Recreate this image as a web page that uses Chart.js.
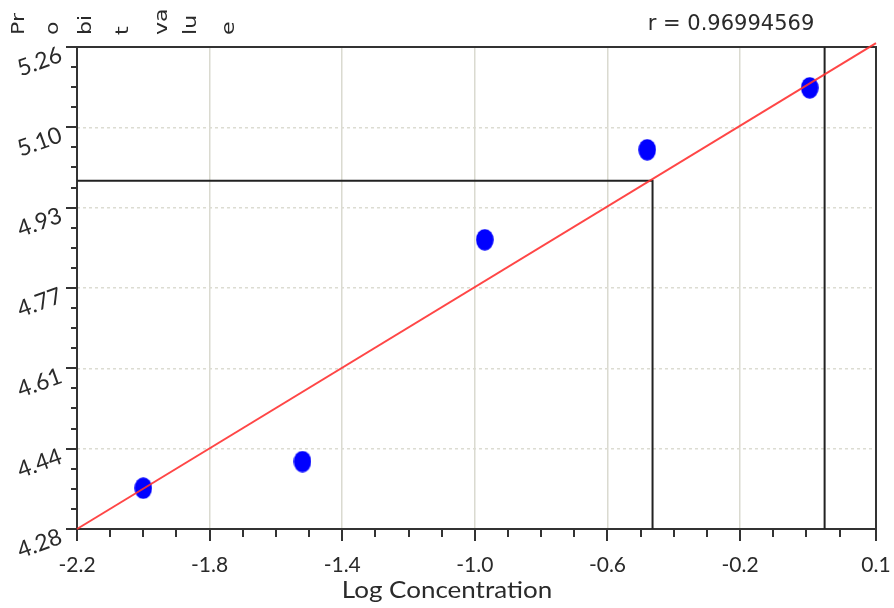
<!DOCTYPE html>
<html>
<head>
<meta charset="utf-8">
<script src="https://cdn.jsdelivr.net/npm/chart.js@4/dist/chart.umd.min.js"></script>
<style>
  body { margin: 0; background: #fff; }
  #wrap { width: 894px; height: 608px; }
</style>
</head>
<body>
<div id="wrap"><canvas id="probitChart" width="894" height="608"></canvas></div>
<script>
// observed points
const logConc = [-2.0, -1.52, -0.97, -0.48, 0.01];
const probit = [4.363, 4.417, 4.868, 5.051, 5.177];

// fitted line, LC50 guide and the extra marker line
const fitX = [-2.2, 0.21];
const fitY = [4.28, 5.268];
const lc50X = [-2.2, -0.464, -0.464];
const lc50Y = [4.988, 4.988, 4.28];
const markX = [0.055, 0.055];
const markY = [4.28, 5.26];

// axes
const xTickValues = [-2.2, -1.8, -1.4, -1.0, -0.6, -0.2, 0.21];
const xTickLabels = ['-2.2', '-1.8', '-1.4', '-1.0', '-0.6', '-0.2', '0.1'];
const xMinorTicks = [-2.1, -2.0, -1.9, -1.7, -1.6, -1.5, -1.3, -1.2, -1.1, -0.9, -0.8, -0.7, -0.5, -0.4, -0.3, -0.1, 0.0, 0.1];
const yTickValues = [4.28, 4.4433, 4.6067, 4.77, 4.9333, 5.0967, 5.26];
const yTickLabels = ['4.28', '4.44', '4.61', '4.77', '4.93', '5.10', '5.26'];

const rText = 'r = 0.96994569';
const xTitle = 'Log Concentration';
const yTitleParts = ['Pr', 'o', 'bi', 't', 'va', 'lu', 'e'];

const toPts = (xs, ys) => xs.map((x, i) => ({ x: x, y: ys[i] }));

// blue dots are slightly taller than wide
const dot = document.createElement('canvas');
dot.width = 18; dot.height = 22;
const dctx = dot.getContext('2d');
dctx.fillStyle = '#0000ff';
dctx.beginPath();
dctx.ellipse(9, 11, 8.8, 10.8, 0, 0, Math.PI * 2);
dctx.fill();

const TEXT = '#2a2a2a';
const FRAME = '#333333';

const decorPlugin = {
  id: 'decor',
  beforeDatasetsDraw(chart) {
    const { ctx, chartArea: a, scales } = chart;
    ctx.save();
    ctx.strokeStyle = FRAME;
    ctx.lineWidth = 2;
    ctx.strokeRect(a.left, a.top, a.right - a.left, a.bottom - a.top);

    // tick marks
    ctx.beginPath();
    xTickValues.forEach(v => {
      const px = Math.round(scales.x.getPixelForValue(v));
      ctx.moveTo(px, a.bottom); ctx.lineTo(px, a.bottom + 12);
    });
    xMinorTicks.forEach(v => {
      const px = Math.round(scales.x.getPixelForValue(v));
      ctx.moveTo(px, a.bottom); ctx.lineTo(px, a.bottom + 8);
    });
    yTickValues.forEach((v, i) => {
      const py = Math.round(scales.y.getPixelForValue(v));
      ctx.moveTo(a.left, py); ctx.lineTo(a.left - 11, py);
      if (i < yTickValues.length - 1) {
        const step = (yTickValues[i + 1] - v) / 4;
        for (let k = 1; k < 4; k++) {
          const my = Math.round(scales.y.getPixelForValue(v + step * k));
          ctx.moveTo(a.left, my); ctx.lineTo(a.left - 6, my);
        }
      }
    });
    ctx.stroke();
    ctx.restore();
  },
  afterDraw(chart) {
    const { ctx } = chart;
    ctx.save();
    ctx.fillStyle = TEXT;
    ctx.font = '21px "DejaVu Sans"';
    ctx.textAlign = 'center';
    ctx.textBaseline = 'middle';
    ctx.fillText(rText, 731, 25);

    // axis title looks a bit stretched sideways
    ctx.save();
    ctx.translate(447, 591);
    ctx.scale(1.13, 1);
    ctx.font = '23px Lato';
    ctx.fillText(xTitle, 0, 0);
    ctx.restore();

    // the y title comes apart into rotated pieces along the top
    const partX = [24, 58, 91, 128, 167, 196, 234];
    ctx.font = '17px "DejaVu Sans"';
    ctx.textAlign = 'left';
    ctx.textBaseline = 'alphabetic';
    yTitleParts.forEach((s, i) => {
      ctx.save();
      ctx.translate(partX[i], 35);
      ctx.rotate(-Math.PI / 2);
      ctx.scale(1.3, 1);
      ctx.fillText(s, 0, 0);
      ctx.restore();
    });
    ctx.restore();
  }
};

new Chart(document.getElementById('probitChart'), {
  type: 'scatter',
  data: {
    datasets: [
      {
        label: 'fit',
        data: toPts(fitX, fitY),
        showLine: true,
        borderColor: 'rgba(255,50,50,0.9)',
        borderWidth: 2,
        pointRadius: 0,
        clip: false,
        order: 0
      },
      {
        label: 'probit',
        data: toPts(logConc, probit),
        pointStyle: dot,
        pointRadius: 10,
        order: 1
      },
      {
        label: 'lc50',
        data: toPts(lc50X, lc50Y),
        showLine: true,
        borderColor: '#222',
        borderWidth: 2,
        pointRadius: 0,
        order: 2
      },
      {
        label: 'mark',
        data: toPts(markX, markY),
        showLine: true,
        borderColor: '#222',
        borderWidth: 2,
        pointRadius: 0,
        order: 2
      }
    ]
  },
  options: {
    responsive: false,
    animation: false,
    layout: { padding: { top: 47, right: 18, left: 0, bottom: 0 } },
    plugins: {
      legend: { display: false },
      tooltip: { enabled: false }
    },
    scales: {
      x: {
        type: 'linear',
        min: -2.2,
        max: 0.21,
        afterBuildTicks: s => { s.ticks = xTickValues.map(v => ({ value: v })); },
        afterFit: s => { s.height = 79; s.paddingLeft = 0; s.paddingRight = 0; },
        border: { display: false },
        grid: {
          drawTicks: false,
          lineWidth: 1.5,
          color: c => (c.index > 0 && c.index < xTickValues.length - 1) ? '#dadad0' : 'rgba(0,0,0,0)'
        },
        ticks: {
          padding: 24,
          maxRotation: 0,
          autoSkip: false,
          color: TEXT,
          font: { family: 'Lato', size: 21 },
          callback: (v, i) => xTickLabels[i]
        }
      },
      y: {
        type: 'linear',
        min: 4.28,
        max: 5.26,
        afterBuildTicks: s => { s.ticks = yTickValues.map(v => ({ value: v })); },
        afterFit: s => { s.width = 77; s.paddingTop = 0; s.paddingBottom = 0; },
        border: { display: false, dash: [3, 3] },
        grid: {
          drawTicks: false,
          lineWidth: 1.5,
          color: c => (c.index > 0 && c.index < yTickValues.length - 1) ? '#dcdcd2' : 'rgba(0,0,0,0)'
        },
        ticks: {
          padding: 16,
          minRotation: 20,
          maxRotation: 20,
          labelOffset: 7,
          autoSkip: false,
          color: TEXT,
          font: { family: 'Lato', size: 23 },
          callback: (v, i) => yTickLabels[i]
        }
      }
    }
  },
  plugins: [decorPlugin]
});
</script>
</body>
</html>
